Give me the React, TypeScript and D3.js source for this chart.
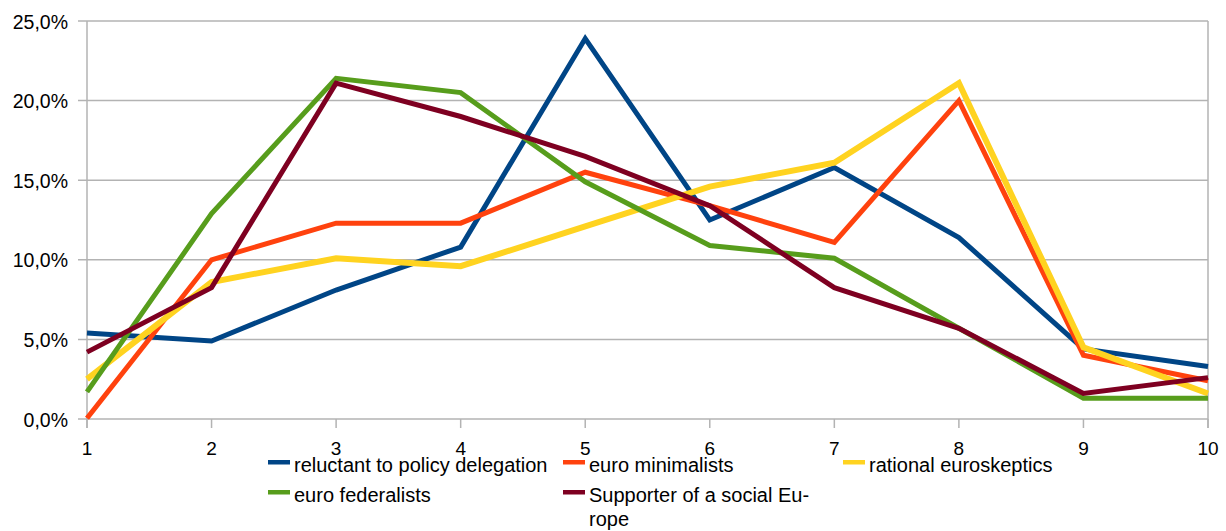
import React from "react";
import * as d3 from "d3";

const categories = [1, 2, 3, 4, 5, 6, 7, 8, 9, 10];
const reluctant = [5.4, 4.9, 8.1, 10.8, 23.9, 12.5, 15.8, 11.4, 4.4, 3.3];
const minimalists = [0.05, 10.0, 12.3, 12.3, 15.5, 13.4, 11.1, 20.0, 4.0, 2.4];
const rational = [2.5, 8.6, 10.1, 9.6, 12.1, 14.6, 16.1, 21.1, 4.5, 1.6];
const federalists = [1.7, 12.9, 21.4, 20.5, 14.9, 10.9, 10.1, 5.7, 1.3, 1.3];
const social = [4.2, 8.25, 21.1, 19.0, 16.5, 13.4, 8.25, 5.7, 1.6, 2.6];
const yTicks = [0, 5, 10, 15, 20, 25];

const series = [
  { name: "reluctant to policy delegation", values: reluctant, color: "#004586", width: 5 },
  { name: "euro minimalists", values: minimalists, color: "#ff420e", width: 5 },
  { name: "rational euroskeptics", values: rational, color: "#ffd320", width: 6 },
  { name: "euro federalists", values: federalists, color: "#579d1c", width: 5 },
  { name: "Supporter of a social Europe", values: social, color: "#7e0021", width: 5 },
];

const W = 1226;
const H = 531;
const left = 87;
const right = 1208;
const top = 21;
const bottom = 419;

export default function App() {
  const x = d3.scaleLinear().domain([1, 10]).range([left, right]);
  const y = d3.scaleLinear().domain([0, 25]).range([bottom, top]);
  const line = d3
    .line<number>()
    .x((_, i) => x(categories[i]))
    .y((v) => y(v));
  const font = "Liberation Sans, Arial, sans-serif";
  const grid = "#b3b3b3";

  const legend = [
    { s: series[0], sx: 268, ty: 472, lines: ["reluctant to policy delegation"] },
    { s: series[1], sx: 563, ty: 472, lines: ["euro minimalists"] },
    { s: series[2], sx: 843, ty: 472, lines: ["rational euroskeptics"] },
    { s: series[3], sx: 268, ty: 502, lines: ["euro federalists"] },
    { s: series[4], sx: 563, ty: 502, lines: ["Supporter of a social Eu-", "rope"] },
  ];

  return (
    <svg
      width={W}
      height={H}
      style={{ position: "absolute", left: 0, top: 0, background: "#fff" }}
      fontFamily={font}
    >
      {yTicks.map((t) => (
        <g key={t}>
          <line x1={78} x2={right} y1={y(t)} y2={y(t)} stroke={grid} strokeWidth={1.5} />
          <text x={68} y={y(t) + 7.5} textAnchor="end" fontSize={19.5} fill="#000">
            {t.toFixed(1).replace(".", ",") + "%"}
          </text>
        </g>
      ))}
      <line x1={left} x2={left} y1={top} y2={428} stroke={grid} strokeWidth={1.5} />
      <line x1={right} x2={right} y1={top} y2={428} stroke={grid} strokeWidth={1.5} />
      {categories.map((c) => (
        <g key={c}>
          <line x1={x(c)} x2={x(c)} y1={bottom} y2={428} stroke={grid} strokeWidth={1.5} />
          <text x={x(c)} y={455} textAnchor="middle" fontSize={19} fill="#000">
            {c}
          </text>
        </g>
      ))}
      {series.map((s) => (
        <path
          key={s.name}
          d={line(s.values) || ""}
          fill="none"
          stroke={s.color}
          strokeWidth={s.width}
          strokeLinejoin="miter"
        />
      ))}
      {legend.map((l) => (
        <g key={l.s.name}>
          <rect x={l.sx} y={l.ty - 12} width={22} height={4.5} fill={l.s.color} />
          {l.lines.map((t, i) => (
            <text key={i} x={l.sx + 26} y={l.ty + i * 24} fontSize={20} fill="#000">
              {t}
            </text>
          ))}
        </g>
      ))}
    </svg>
  );
}
